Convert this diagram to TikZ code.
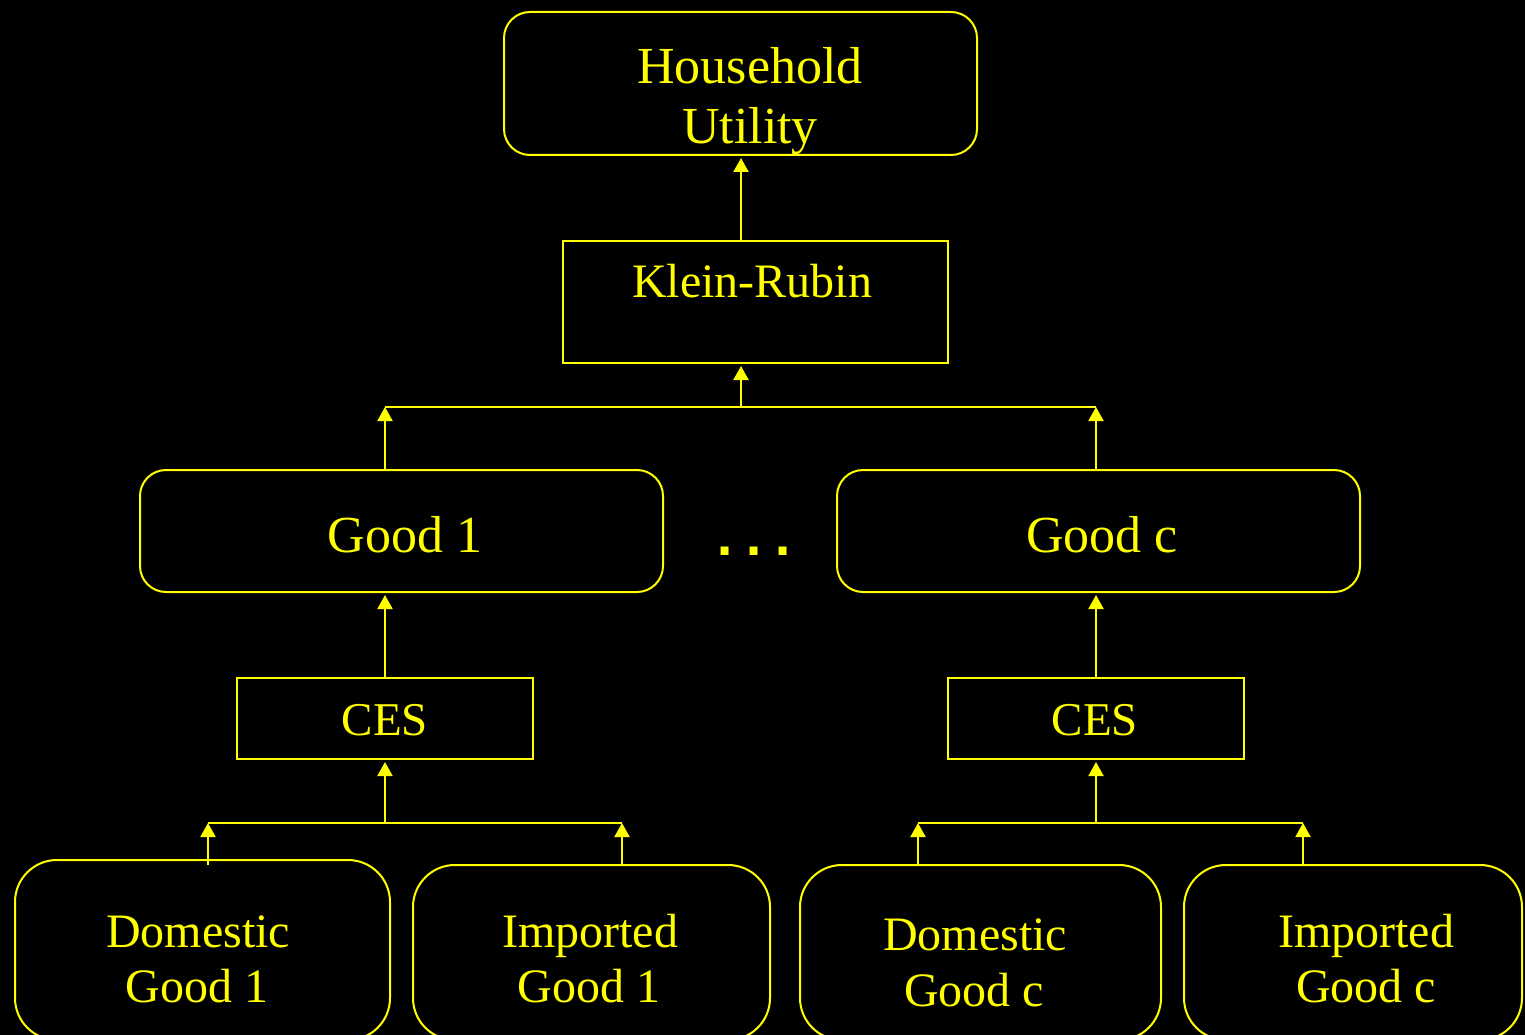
\documentclass[tikz,border=0pt]{standalone}
\usepackage{fontspec}
\setmainfont{Liberation Serif}
\newfontfamily\dotfont{DejaVu Sans}
\usetikzlibrary{arrows.meta}
\definecolor{ylw}{RGB}{255,255,0}
\tikzset{
  base/.style={draw=ylw, line width=2pt, inner sep=0pt, outer sep=0pt},
  rbox/.style={base, rounded corners=26pt},
  bigrbox/.style={base, rounded corners=42pt},
  sqbox/.style={base},
  txt/.style={text=ylw, inner sep=0pt, anchor=base},
  arr/.style={draw=ylw, line width=2pt, -{Triangle[width=15pt,length=14pt]}},
  ln/.style={draw=ylw, line width=2pt},
}
\begin{document}
\begin{tikzpicture}[x=1pt,y=-1pt]
\useasboundingbox (0,0) rectangle (1525,1035);
\fill[black] (0,0) rectangle (1525,1035);
\clip (0,0) rectangle (1525,1035);
% boxes
\node[rbox, minimum width=473pt, minimum height=143pt] (hu) at (740.5,83.5) {};
\node[sqbox, minimum width=385pt, minimum height=122pt] (kr) at (755.5,302) {};
\node[rbox, minimum width=523pt, minimum height=122pt] (g1) at (401.5,531) {};
\node[rbox, minimum width=523pt, minimum height=122pt] (gc) at (1098.5,531) {};
\node[sqbox, minimum width=296pt, minimum height=81pt] (ces1) at (385,718.5) {};
\node[sqbox, minimum width=296pt, minimum height=81pt] (cesc) at (1096,718.5) {};
\node[bigrbox, minimum width=375pt, minimum height=180pt] (d1) at (202.5,950) {};
\node[bigrbox, minimum width=357pt, minimum height=175pt] (i1) at (591.5,952.5) {};
\node[bigrbox, minimum width=361pt, minimum height=175pt] (dc) at (980.5,952.5) {};
\node[bigrbox, minimum width=338pt, minimum height=175pt] (ic) at (1353,952.5) {};
% texts
\node[txt, font=\fontsize{52}{60}\selectfont] (thu1) at (750,84) {Household};
\node[txt, font=\fontsize{52}{60}\selectfont] (thu2) at (750,144) {Utility};
\node[txt, font=\fontsize{48}{60}\selectfont] (tkr) at (752,297) {Klein-Rubin};
\node[txt, font=\fontsize{52}{60}\selectfont] (tg1) at (405,552) {Good 1};
\node[txt, font=\fontsize{52}{60}\selectfont] (tgc) at (1102,552) {Good c};
\node[txt, font=\dotfont\bfseries\fontsize{45}{60}\selectfont] (dots) at (754,555) {.\hspace{11.5pt}.\hspace{11.5pt}.};
\node[txt, font=\fontsize{47}{60}\selectfont] (tces1) at (385,735) {CES};
\node[txt, font=\fontsize{47}{60}\selectfont] (tcesc) at (1095,735) {CES};
\node[txt, font=\fontsize{48}{60}\selectfont] (td1a) at (198,947) {Domestic};
\node[txt, font=\fontsize{48}{60}\selectfont] (td1b) at (197,1002) {Good 1};
\node[txt, font=\fontsize{48}{60}\selectfont] (ti1a) at (590,947) {Imported};
\node[txt, font=\fontsize{48}{60}\selectfont] (ti1b) at (589,1002) {Good 1};
\node[txt, font=\fontsize{48}{60}\selectfont] (tdca) at (975,950) {Domestic};
\node[txt, font=\fontsize{48}{60}\selectfont] (tdcb) at (974,1006) {Good c};
\node[txt, font=\fontsize{48}{60}\selectfont] (tica) at (1366,947) {Imported};
\node[txt, font=\fontsize{48}{60}\selectfont] (ticb) at (1366,1002) {Good c};
% junction coordinates
\coordinate (jtop) at (741,407);
\coordinate (jl) at (385,407);
\coordinate (jr) at (1096,407);
\coordinate (jb1) at (385,823);
\coordinate (jb1l) at (208,823);
\coordinate (jb1r) at (622,823);
\coordinate (jbc) at (1096,823);
\coordinate (jbcl) at (918,823);
\coordinate (jbcr) at (1303,823);
% connectors
\draw[arr] (jtop |- kr.north) -- ([yshift=-3pt]jtop |- hu.south);
\draw[arr] (jtop) -- ([yshift=-3pt]jtop |- kr.south);
\draw[ln] (jl) -- (jr);
\draw[arr] (jl |- g1.north) -- (jl);
\draw[arr] (jr |- gc.north) -- (jr);
\draw[arr] (jl |- ces1.north) -- ([yshift=-3pt]jl |- g1.south);
\draw[arr] (jr |- cesc.north) -- ([yshift=-3pt]jr |- gc.south);
\draw[arr] (jb1) -- ([yshift=-3pt]jb1 |- ces1.south);
\draw[arr] (jbc) -- ([yshift=-3pt]jbc |- cesc.south);
\draw[ln] (jb1l) -- (jb1r);
\draw[ln] (jbcl) -- (jbcr);
\draw[arr] ([yshift=-5pt]jb1l |- d1.north) -- (jb1l);
\draw[arr] (jb1r |- i1.north) -- (jb1r);
\draw[arr] (jbcl |- dc.north) -- (jbcl);
\draw[arr] (jbcr |- ic.north) -- (jbcr);
\end{tikzpicture}
\end{document}
